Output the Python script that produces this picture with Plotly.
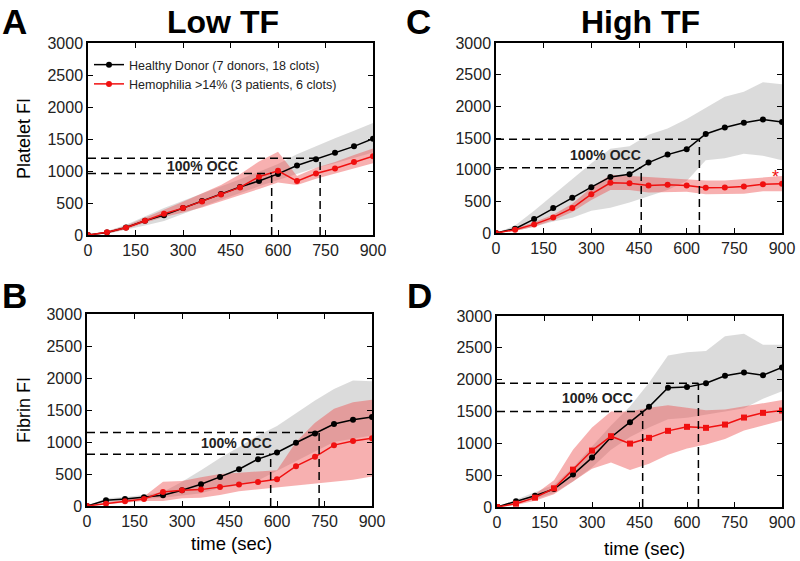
import plotly.graph_objects as go

# time points (sec)
t = [0, 60, 120, 180, 240, 300, 360, 420, 480, 540, 600, 660, 720, 780, 840, 900]

# Panel A: Low TF, platelet
a_hd = [0, 40, 118, 222, 310, 420, 530, 640, 750, 845, 955, 1085, 1185, 1285, 1385, 1505]
a_hd_hi = [0, 60, 160, 290, 420, 535, 645, 755, 870, 990, 1110, 1260, 1390, 1510, 1630, 1750]
a_hd_lo = [0, 20, 80, 150, 220, 330, 440, 550, 660, 760, 860, 960, 1050, 1120, 1200, 1290]
a_hem = [0, 42, 114, 224, 333, 420, 525, 634, 744, 910, 1003, 842, 962, 1040, 1140, 1232]
a_hem_hi = [0, 60, 145, 265, 395, 520, 650, 780, 950, 1150, 1300, 920, 1050, 1140, 1250, 1350]
a_hem_lo = [0, 20, 90, 190, 280, 350, 430, 520, 620, 720, 820, 780, 880, 960, 1040, 1120]

# Panel B: Low TF, fibrin
b_hd = [0, 89, 110, 136, 167, 246, 340, 455, 575, 732, 836, 988, 1134, 1281, 1349, 1390]
b_hd_hi = [0, 120, 140, 170, 220, 380, 560, 750, 920, 1100, 1250, 1450, 1650, 1830, 1960, 1950]
b_hd_lo = [0, 60, 80, 110, 130, 160, 200, 280, 320, 400, 550, 700, 850, 1000, 1050, 1100]
b_hem = [0, 37, 73, 110, 220, 246, 256, 298, 335, 376, 418, 622, 768, 951, 1014, 1060]
b_hem_hi = [0, 60, 100, 150, 380, 390, 450, 500, 520, 540, 560, 1000, 1300, 1520, 1620, 1660]
b_hem_lo = [0, 20, 50, 80, 80, 120, 130, 170, 230, 260, 290, 330, 360, 380, 410, 460]

# Panel C: High TF, platelet
c_hd = [0, 68, 220, 393, 556, 724, 886, 928, 1112, 1238, 1321, 1563, 1667, 1741, 1793, 1751]
c_hd_hi = [0, 120, 350, 600, 850, 1100, 1330, 1370, 1550, 1650, 1800, 1980, 2150, 2230, 2380, 2350]
c_hd_lo = [0, 30, 100, 180, 240, 350, 400, 480, 580, 680, 820, 1150, 1180, 1250, 1220, 1150]
c_hem = [0, 52, 136, 246, 393, 613, 792, 787, 750, 760, 750, 713, 718, 734, 771, 776]
c_hem_hi = [0, 70, 170, 290, 460, 720, 920, 900, 880, 870, 850, 830, 830, 850, 880, 900]
c_hem_lo = [0, 30, 100, 200, 330, 520, 680, 680, 640, 650, 650, 610, 620, 620, 660, 660]

# Panel D: High TF, fibrin
d_hd = [0, 89, 178, 283, 509, 776, 1096, 1332, 1573, 1872, 1883, 1945, 2061, 2113, 2071, 2192]
d_hd_hi = [0, 120, 240, 350, 620, 950, 1280, 1580, 1950, 2380, 2430, 2450, 2680, 2720, 2550, 2550]
d_hd_lo = [0, 60, 120, 220, 400, 620, 900, 1100, 1250, 1380, 1400, 1450, 1500, 1550, 1700, 1820]
d_hem = [0, 52, 147, 294, 587, 886, 1112, 996, 1086, 1196, 1259, 1243, 1295, 1405, 1479, 1515]
d_hem_hi = [0, 80, 200, 420, 900, 1250, 1500, 1500, 1560, 1600, 1560, 1520, 1530, 1580, 1640, 1680]
d_hem_lo = [0, 30, 100, 200, 400, 600, 700, 580, 680, 820, 920, 980, 1070, 1200, 1280, 1360]

# 100% occlusion markers: (time, level) pairs per panel
occ = {
    "A": [(580, 960), (733, 1200)],
    "B": [(580, 810), (733, 1150)],
    "C": [(457, 1030), (640, 1480)],
    "D": [(460, 1500), (636, 1945)],
}
# label position for "100% OCC" per panel (time, level)
occ_label = {"A": (360, 1078), "B": (473, 985), "C": (343, 1232), "D": (316, 1711)}

labels = ["Healthy Donor (7 donors, 18 clots)", "Hemophilia >14% (3 patients, 6 clots)"]

GREY = "rgba(190,190,190,0.55)"
PINK = "rgba(238,80,80,0.45)"
RED = "#f01010"

panels = [
    ("A", "x", "y", a_hd, a_hd_hi, a_hd_lo, a_hem, a_hem_hi, a_hem_lo, "circle"),
    ("B", "x2", "y2", b_hd, b_hd_hi, b_hd_lo, b_hem, b_hem_hi, b_hem_lo, "circle"),
    ("C", "x3", "y3", c_hd, c_hd_hi, c_hd_lo, c_hem, c_hem_hi, c_hem_lo, "circle"),
    ("D", "x4", "y4", d_hd, d_hd_hi, d_hd_lo, d_hem, d_hem_hi, d_hem_lo, "square"),
]

fig = go.Figure()
shapes = []
ann = []
for i, (name, xa, ya, hd, hdh, hdl, hm, hmh, hml, sym) in enumerate(panels):
    band_x = t + t[::-1]
    fig.add_trace(go.Scatter(x=band_x, y=hdh + hdl[::-1], fill="toself", fillcolor=GREY,
                             line=dict(width=0), mode="lines", showlegend=False,
                             hoverinfo="skip", xaxis=xa, yaxis=ya))
    fig.add_trace(go.Scatter(x=band_x, y=hmh + hml[::-1], fill="toself", fillcolor=PINK,
                             line=dict(width=0), mode="lines", showlegend=False,
                             hoverinfo="skip", xaxis=xa, yaxis=ya))
    fig.add_trace(go.Scatter(x=t, y=hd, mode="lines+markers", name=labels[0],
                             line=dict(color="black", width=1.5),
                             marker=dict(color="black", size=6, symbol="circle"),
                             showlegend=(i == 0), xaxis=xa, yaxis=ya))
    fig.add_trace(go.Scatter(x=t, y=hm, mode="lines+markers", name=labels[1],
                             line=dict(color=RED, width=1.5),
                             marker=dict(color=RED, size=6, symbol=sym),
                             showlegend=(i == 0), xaxis=xa, yaxis=ya))
    for tx, lv in occ[name]:
        dash = dict(color="black", width=1.5, dash="8px,5px")
        shapes.append(dict(type="line", xref=xa, yref=ya, x0=0, x1=tx, y0=lv, y1=lv, line=dash))
        shapes.append(dict(type="line", xref=xa, yref=ya, x0=tx, x1=tx, y0=0, y1=lv, line=dash))
    lx, ly = occ_label[name]
    ann.append(dict(x=lx, y=ly, xref=xa, yref=ya, text="<b>100% OCC</b>", showarrow=False,
                    font=dict(size=14, color="#222")))

W, H = 800, 561
def px(x):
    return x / W
def py(y):
    return 1 - y / H
def dom_x(a, b):
    return [px(a), px(b)]
def dom_y(top, bottom):
    return [py(bottom), py(top)]

axis_common = dict(showline=True, linecolor="black", linewidth=1.5, mirror="allticks",
                   ticks="inside", ticklen=5, tickwidth=1.2, tickcolor="black",
                   showgrid=False, zeroline=False,
                   tickfont=dict(family="Arial, Liberation Sans", size=16, color="#222"))
xcommon = dict(axis_common, range=[0, 900], tickvals=[0, 150, 300, 450, 600, 750, 900])
ycommon = dict(axis_common, range=[0, 3000], tickvals=[0, 500, 1000, 1500, 2000, 2500, 3000])

fig.update_layout(
    width=W, height=H, margin=dict(l=0, r=0, t=0, b=0, autoexpand=False),
    plot_bgcolor="white", paper_bgcolor="white",
    font=dict(family="Arial, Liberation Sans", color="black"),
    xaxis=dict(xcommon, domain=dom_x(88, 373), anchor="y"),
    yaxis=dict(ycommon, domain=dom_y(43, 235), anchor="x"),
    xaxis2=dict(xcommon, domain=dom_x(87, 372), anchor="y2"),
    yaxis2=dict(ycommon, domain=dom_y(314, 506), anchor="x2"),
    xaxis3=dict(xcommon, domain=dom_x(496, 782), anchor="y3"),
    yaxis3=dict(ycommon, domain=dom_y(43, 233), anchor="x3"),
    xaxis4=dict(xcommon, domain=dom_x(497, 782), anchor="y4"),
    yaxis4=dict(ycommon, domain=dom_y(316, 507), anchor="x4"),
    shapes=shapes,
    legend=dict(x=px(89), y=py(50), xanchor="left", yanchor="top",
                bgcolor="rgba(0,0,0,0)", font=dict(size=12.5, color="#222"),
                tracegroupgap=0, itemwidth=30),
)

def text(x, y, s, size, bold=False, angle=0, color="black", xanchor="center", yanchor="middle"):
    ann.append(dict(x=px(x), y=py(y), xref="paper", yref="paper",
                    text=f"<b>{s}</b>" if bold else s, showarrow=False,
                    font=dict(size=size, color=color), textangle=angle,
                    xanchor=xanchor, yanchor=yanchor))

text(0, 0, "A", 35, bold=True, xanchor="left", yanchor="top")
text(0, 274, "B", 35, bold=True, xanchor="left", yanchor="top")
text(404, 0, "C", 35, bold=True, xanchor="left", yanchor="top")
text(405, 274, "D", 35, bold=True, xanchor="left", yanchor="top")
text(223, 22, "Low TF", 32, bold=True)
text(640, 22, "High TF", 32, bold=True)
text(24, 139, "Platelet FI", 18, angle=-90)
text(24, 410, "Fibrin FI", 18, angle=-90)
text(232, 543, "time (sec)", 18.5)
text(644, 548, "time (sec)", 18.5)

ann.append(dict(x=881, y=880, xref="x3", yref="y3", text="*", showarrow=False,
                font=dict(size=18, color=RED)))

fig.update_layout(annotations=ann)
# drop the default page margin so the figure sits at the window's corner
fig.write_html("out.html", config={"displayModeBar": False},
               post_script="document.body.style.margin='0';")
